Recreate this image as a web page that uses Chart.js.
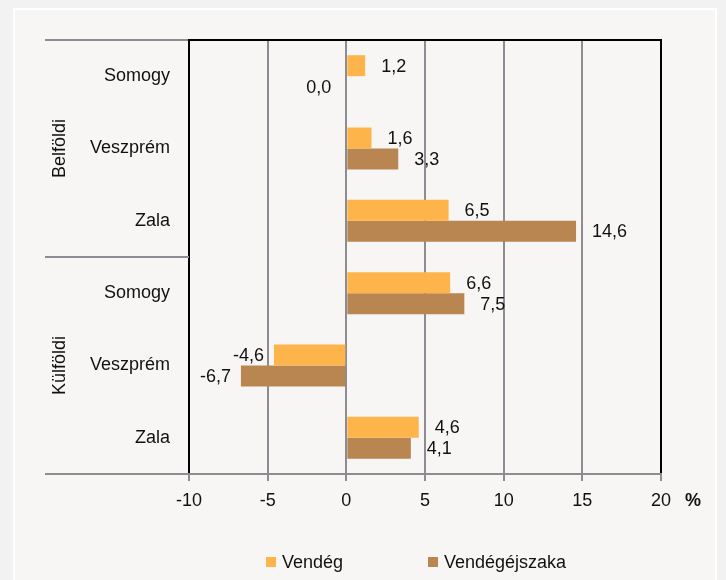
<!DOCTYPE html>
<html>
<head>
<meta charset="utf-8">
<script src="https://cdn.jsdelivr.net/npm/chart.js@4/dist/chart.umd.min.js"></script>
<style>
  html, body { margin: 0; padding: 0; background: #f2f2f2; overflow: hidden; }
  canvas { display: block; }
</style>
</head>
<body>
<canvas id="chart" width="726" height="580"></canvas>
<script>
// data
const regions = ['Somogy', 'Veszprém', 'Zala', 'Somogy', 'Veszprém', 'Zala']
const groups = ['Belföldi', 'Külföldi']
const vendeg = [1.2, 1.6, 6.5, 6.6, -4.6, 4.6]
const vendegejszaka = [0.0, 3.3, 14.6, 7.5, -6.7, 4.1]
const seriesNames = ['Vendég', 'Vendégéjszaka']
const colors = ['#fdb44b', '#b98550']

const FONT = '"Liberation Sans", Arial, sans-serif'
const FSIZE = 18
const GRID = '#8c8c92'

function fmt(v) {
  return v.toFixed(1).replace('.', ',')
}

// background, frame, separators, labels, legend
const extras = {
  id: 'extras',
  beforeDraw(chart) {
    const c = chart.ctx
    c.save()
    c.fillStyle = '#f2f2f2'
    c.fillRect(0, 0, chart.width, chart.height)
    c.fillStyle = '#f7f6f4'
    c.fillRect(14, 9, 702, 580)
    c.strokeStyle = '#ffffff'
    c.lineWidth = 2
    c.strokeRect(14, 9, 702, 580)
    c.restore()
  },
  afterDraw(chart) {
    const c = chart.ctx
    const a = chart.chartArea
    c.save()
    // group separators
    c.strokeStyle = GRID
    c.lineWidth = 2
    const half = (a.top + a.bottom) / 2
    ;[a.top, half, a.bottom].forEach(function (yy) {
      c.beginPath()
      c.moveTo(45, yy)
      c.lineTo(a.left, yy)
      c.stroke()
    })
    // top border
    c.strokeStyle = '#000'
    c.beginPath()
    c.moveTo(a.left - 1, a.top)
    c.lineTo(a.right + 1, a.top)
    c.stroke()
    // group labels
    c.fillStyle = '#111'
    c.font = FSIZE + 'px ' + FONT
    c.textAlign = 'center'
    c.textBaseline = 'middle'
    groups.forEach(function (g, i) {
      const top = i === 0 ? a.top : half
      const bot = i === 0 ? half : a.bottom
      c.save()
      c.translate(60, (top + bot) / 2)
      c.rotate(-Math.PI / 2)
      c.fillText(g, 0, 0)
      c.restore()
    })
    // percent sign
    c.font = 'bold ' + FSIZE + 'px ' + FONT
    c.fillText('%', 693, 501)
    // legend
    c.font = FSIZE + 'px ' + FONT
    c.textAlign = 'left'
    const lx = [266, 428]
    seriesNames.forEach(function (n, i) {
      c.fillStyle = colors[i]
      c.fillRect(lx[i], 557, 10, 10)
      c.fillStyle = '#111'
      c.fillText(n, lx[i] + 16, 563)
    })
    c.restore()
  },
  afterDatasetsDraw(chart) {
    const c = chart.ctx
    c.save()
    c.fillStyle = '#111'
    c.font = FSIZE + 'px ' + FONT
    c.textBaseline = 'middle'
    chart.data.datasets.forEach(function (ds, di) {
      chart.getDatasetMeta(di).data.forEach(function (el, i) {
        const v = ds.data[i]
        if (v > 0) {
          c.textAlign = 'left'
          c.fillText(fmt(v), el.x + 16, el.y + 1)
        } else {
          c.textAlign = 'right'
          c.fillText(fmt(v), el.x - (v === 0 ? 15 : 10), el.y + 1)
        }
      })
    })
    c.restore()
  }
}

const ctx = document.getElementById('chart').getContext('2d')

new Chart(ctx, {
  type: 'bar',
  data: {
    labels: regions,
    datasets: [
      { label: seriesNames[0], data: vendeg, backgroundColor: colors[0] },
      { label: seriesNames[1], data: vendegejszaka, backgroundColor: colors[1] }
    ]
  },
  options: {
    indexAxis: 'y',
    responsive: false,
    animation: false,
    barPercentage: 1,
    categoryPercentage: 0.58,
    layout: { padding: { left: 0, right: 65, top: 40, bottom: 0 } },
    plugins: {
      legend: { display: false },
      tooltip: { enabled: false }
    },
    scales: {
      x: {
        min: -10,
        max: 20,
        ticks: {
          stepSize: 5,
          color: '#111',
          padding: 9,
          font: { family: FONT, size: FSIZE }
        },
        grid: {
          color: function (c) {
            if (c.tick && (c.tick.value === -10 || c.tick.value === 20)) return '#000'
            return GRID
          },
          lineWidth: 2,
          tickLength: 7,
          tickColor: GRID
        },
        border: { color: GRID, width: 2 },
        afterFit: function (s) { s.height = 106 }
      },
      y: {
        ticks: {
          color: '#111',
          padding: 19,
          font: { family: FONT, size: FSIZE }
        },
        grid: { display: false, drawTicks: false },
        border: { display: false },
        afterFit: function (s) { s.width = 189 }
      }
    }
  },
  plugins: [extras]
})
</script>
</body>
</html>
